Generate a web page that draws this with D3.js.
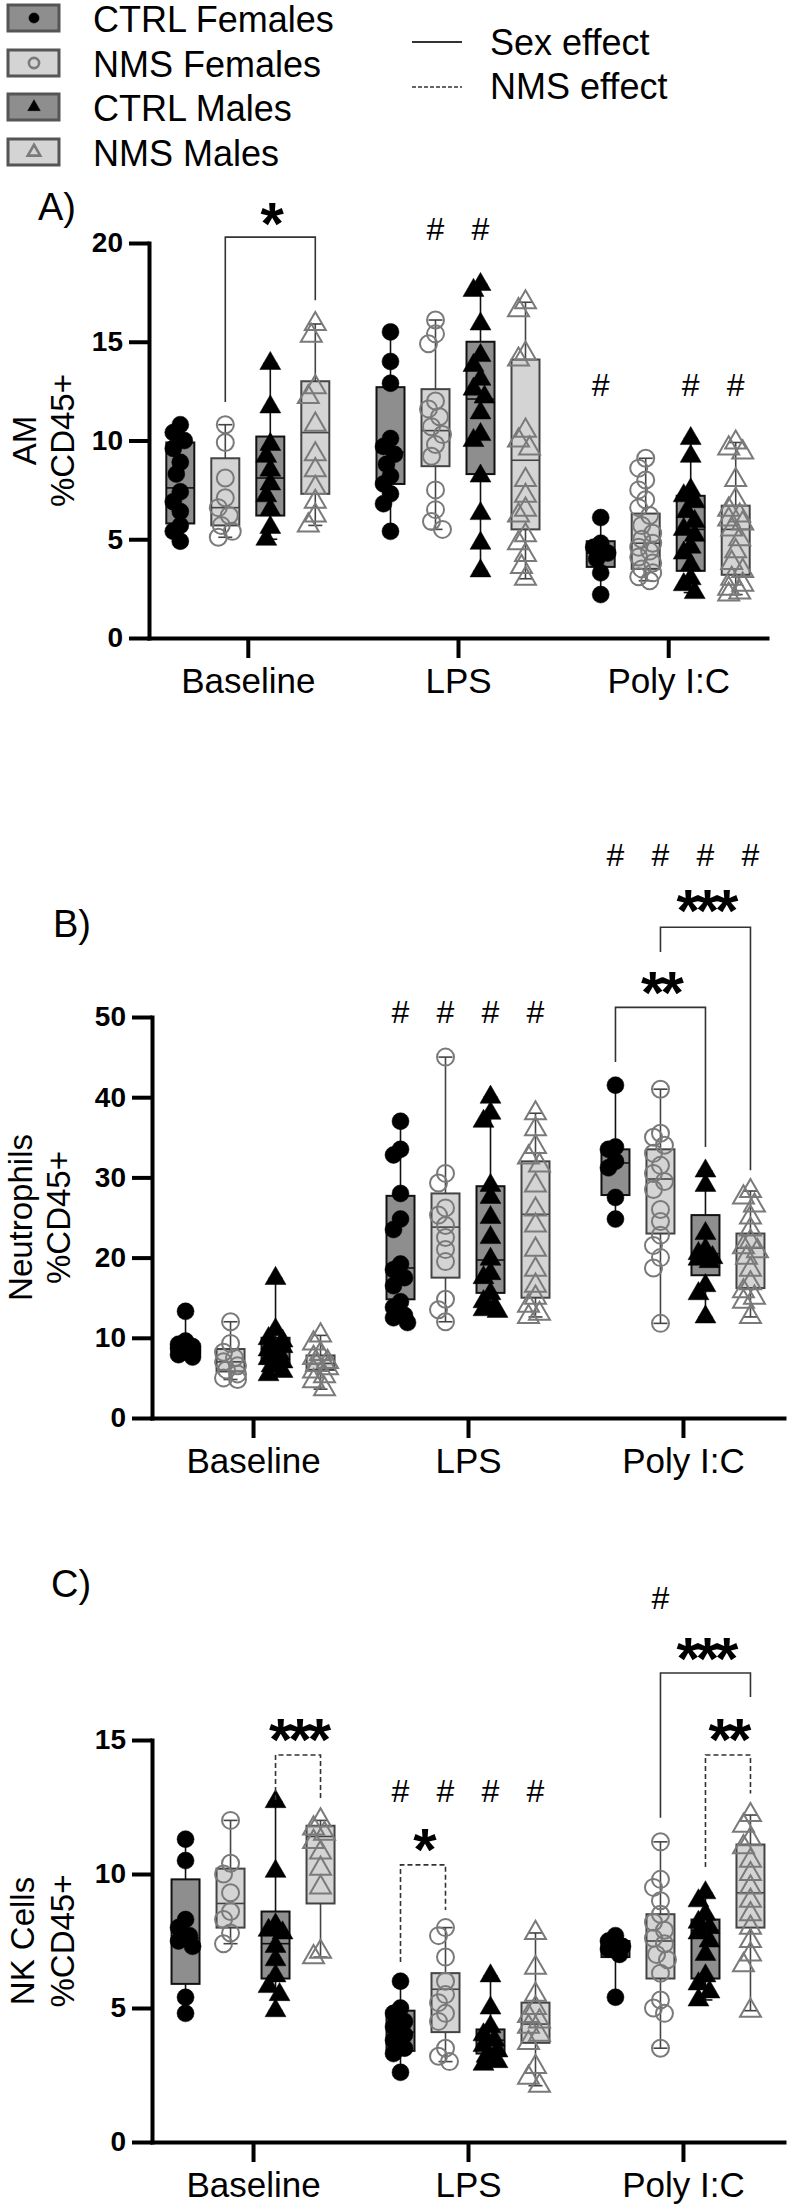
<!DOCTYPE html>
<html>
<head>
<meta charset="utf-8">
<script src="https://cdn.jsdelivr.net/npm/d3@7"></script>
<style>
  body { margin: 0; background: #fff; }
  svg { display: block; font-family: "Liberation Sans", Arimo, Arial, sans-serif; }
</style>
</head>
<body>
<div id="chart"></div>
<script>
const categories = ["Baseline", "LPS", "Poly I:C"];
const groups = ["CTRL Females", "NMS Females", "CTRL Males", "NMS Males"];

// A) AM %CD45+  (points per group, box = [q1, median, q3])
const amBaseline = [
  [10.8, 10.4, 10.0, 9.6, 8.9, 8.3, 7.4, 6.9, 6.4, 5.7, 5.4, 4.9],
  [10.8, 9.9, 8.1, 7.1, 6.6, 6.2, 5.7, 5.4, 5.1],
  [13.9, 11.7, 9.8, 9.2, 8.5, 7.8, 7.2, 6.5, 5.6, 5.0],
  [15.9, 15.3, 12.7, 12.2, 10.8, 9.3, 8.5, 7.6, 6.9, 6.2, 5.7]
];
const amBaselineBox = [[5.8, 7.6, 9.9], [5.7, 6.6, 9.1], [6.2, 8.1, 10.2], [7.3, 10.4, 13.0]];
const amLPS = [
  [15.5, 14.0, 12.9, 10.1, 9.7, 9.3, 8.8, 8.2, 7.8, 7.3, 6.8, 5.4],
  [16.1, 15.4, 14.9, 12.0, 11.6, 11.2, 10.7, 10.3, 9.8, 9.2, 7.5, 6.5, 5.9, 5.5],
  [17.9, 17.6, 15.9, 14.3, 13.8, 13.1, 12.6, 12.2, 11.4, 10.3, 10.0, 8.2, 6.3, 4.8, 3.4],
  [17.0, 16.6, 14.4, 14.1, 10.5, 10.0, 9.6, 8.0, 7.2, 6.5, 6.2, 5.2, 4.8, 4.2, 3.6, 3.0]
];
const amLPSBox = [[7.8, 9.4, 12.7], [8.7, 10.5, 12.6], [8.3, 12.1, 15.0], [5.5, 9.0, 14.1]];
const amPoly = [
  [6.1, 4.8, 4.6, 4.3, 4.0, 3.3, 2.2],
  [9.1, 8.6, 8.0, 7.5, 7.0, 6.6, 6.2, 5.7, 5.3, 5.0, 4.8, 4.6, 4.4, 4.1, 3.8, 3.5, 3.3, 3.1, 2.9],
  [10.1, 9.2, 7.5, 7.2, 6.9, 6.4, 5.9, 5.5, 5.2, 4.6, 4.3, 3.7, 3.0, 2.7, 2.3],
  [9.9, 9.6, 9.4, 8.0, 7.0, 6.5, 6.2, 6.0, 5.8, 5.5, 5.0, 4.4, 3.8, 3.4, 3.0, 2.7, 2.5, 2.3, 2.2]
];
const amPolyBox = [[3.6, 4.3, 4.9], [3.5, 4.8, 6.3], [3.4, 5.5, 7.2], [3.2, 5.5, 6.7]];

// B) Neutrophils %CD45+
const neuBaseline = [
  [13.3, 9.6, 9.2, 8.9, 8.7, 8.5, 8.3, 8.1, 7.9, 7.6],
  [12.0, 9.3, 8.2, 7.5, 7.0, 6.5, 6.0, 5.5, 5.0, 4.8],
  [17.4, 11.0, 9.9, 9.6, 9.3, 8.9, 8.5, 8.0, 7.4, 7.0, 6.5, 5.8, 5.4],
  [10.3, 9.3, 8.0, 7.5, 7.0, 6.6, 6.2, 5.8, 5.2, 4.6, 3.6]
];
const neuBaselineBox = [[7.8, 8.5, 9.2], [5.8, 7.0, 8.6], [6.8, 8.5, 10.0], [6.0, 6.8, 7.8]];
const neuLPS = [
  [37.0, 33.5, 32.8, 28.0, 24.8, 23.5, 19.2, 18.5, 17.5, 16.5, 14.5, 13.8, 12.8, 12.5, 11.9],
  [45.0, 30.5, 29.3, 26.2, 25.3, 24.0, 22.5, 21.0, 19.5, 14.8, 13.5, 12.0],
  [40.0, 38.0, 37.0, 29.0, 27.5, 25.0, 22.5, 19.8, 18.0, 17.5, 15.5, 14.5, 13.8, 13.5, 13.3],
  [38.0, 36.0, 33.8, 32.5, 31.5, 29.0, 26.0, 24.0, 21.0, 18.5, 16.5, 15.0, 14.0, 13.0, 12.6]
];
const neuLPSBox = [[14.8, 18.7, 27.7], [17.5, 23.8, 28.0], [15.6, 19.7, 28.9], [15.0, 25.4, 32.0]];
const neuPoly = [
  [41.5, 33.8, 33.5, 32.0, 31.2, 27.5, 24.8],
  [41.0, 35.5, 35.0, 34.0, 33.0, 31.5, 30.5, 29.5, 28.5, 26.0, 24.5, 22.8, 21.5, 20.0, 18.7, 11.8],
  [30.8, 29.0, 23.0, 21.0, 20.5, 20.0, 19.8, 19.5, 16.5, 15.5, 12.6],
  [28.3, 27.5, 26.5, 25.0, 23.5, 22.0, 21.3, 20.8, 20.0, 18.5, 16.8, 15.8, 15.0, 14.5, 12.6]
];
const neuPolyBox = [[27.8, 31.8, 33.5], [23.0, 29.8, 33.5], [17.8, 20.5, 25.3], [16.2, 21.2, 23.0]];

// C) NK Cells %CD45+
const nkBaseline = [
  [11.3, 10.5, 8.3, 8.0, 7.7, 7.5, 7.3, 5.4, 4.8],
  [12.0, 10.4, 10.0, 9.3, 8.6, 8.3, 7.8, 7.4],
  [12.7, 10.1, 8.1, 7.9, 7.8, 7.3, 6.8, 6.2, 5.8, 5.5, 4.9],
  [12.0, 11.7, 11.5, 11.2, 10.8, 10.2, 9.5, 7.1, 6.9]
];
const nkBaselineBox = [[5.9, 7.6, 9.8], [8.0, 8.9, 10.2], [6.1, 7.4, 8.6], [8.9, 11.4, 11.8]];
const nkLPS = [
  [6.0, 5.0, 4.8, 4.5, 4.3, 4.0, 3.8, 3.5, 3.3, 2.6],
  [8.0, 7.7, 6.9, 6.0, 5.5, 5.2, 4.8, 4.5, 3.5, 3.2, 3.0],
  [6.2, 5.0, 4.3, 4.0, 3.8, 3.6, 3.4, 3.2, 3.0, 2.9],
  [7.8, 6.5, 5.5, 5.0, 4.7, 4.5, 4.3, 4.0, 3.7, 2.8, 2.4, 2.1]
];
const nkLPSBox = [[3.4, 4.1, 4.9], [4.1, 5.7, 6.3], [3.3, 3.8, 4.2], [3.7, 4.4, 5.2]];
const nkPoly = [
  [7.7, 7.5, 7.3, 7.2, 7.0, 5.4],
  [11.2, 9.8, 9.5, 9.0, 8.5, 8.2, 7.9, 7.6, 7.4, 7.0, 6.8, 6.3, 5.3, 5.0, 4.8, 3.5],
  [9.3, 9.0, 8.5, 8.2, 8.0, 7.8, 7.5, 7.0, 6.2, 5.9, 5.6, 5.3],
  [12.2, 11.8, 11.3, 11.0, 10.5, 10.0, 9.5, 9.0, 8.5, 8.0, 7.5, 7.0, 6.6, 4.9]
];
const nkPolyBox = [[6.9, 7.3, 7.5], [6.1, 7.5, 8.5], [6.1, 7.9, 8.3], [8.0, 9.3, 11.1]];

// "#" marks: [category, group index, value]
const amHashes = [["LPS", 1, 20.7], ["LPS", 2, 20.7], ["Poly I:C", 0, 12.8], ["Poly I:C", 2, 12.8], ["Poly I:C", 3, 12.8]];
const neuHashes = [["LPS", 0, 50.6], ["LPS", 1, 50.6], ["LPS", 2, 50.6], ["LPS", 3, 50.6],
  ["Poly I:C", 0, 70.2], ["Poly I:C", 1, 70.2], ["Poly I:C", 2, 70.2], ["Poly I:C", 3, 70.2]];
const nkHashes = [["LPS", 0, 13.1], ["LPS", 1, 13.1], ["LPS", 2, 13.1], ["LPS", 3, 13.1], ["Poly I:C", 1, 20.3]];

// significance brackets (values in data units)
const amBrackets = [
  { cat: "Baseline", g: [1, 3], top: 20.3, ends: [11.95, 17.1], dashed: false, text: "*", textV: 21.6 }
];
const neuBrackets = [
  { cat: "Poly I:C", g: [1, 3], top: 61.2, ends: [58.1, 30.9], dashed: false, text: "***", textV: 64.8 },
  { cat: "Poly I:C", g: [0, 2], top: 51.2, ends: [44.4, 33.8], dashed: false, text: "**", textV: 54.6 }
];
const nkBrackets = [
  { cat: "Baseline", g: [2, 3], top: 14.44, ends: [12.76, 12.76], dashed: true, text: "***", textV: 15.5 },
  { cat: "LPS", g: [0, 1], top: 10.34, ends: [6.72, 8.66], dashed: true, text: "*", textV: 11.38 },
  { cat: "Poly I:C", g: [1, 3], top: 17.5, ends: [12.1, 16.6], dashed: false, text: "***", textV: 18.5 },
  { cat: "Poly I:C", g: [2, 3], top: 14.44, ends: [10.26, 13.0], dashed: true, text: "**", textV: 15.5 }
];

const boxFill = ["#8e8e8e", "#d4d4d4", "#8e8e8e", "#d4d4d4"];
const lineCol = ["#111", "#444", "#111", "#444"];
const R = 8.5; // marker radius

const svg = d3.select("#chart").append("svg")
  .attr("width", 792).attr("height", 2212);

function drawMarker(sel, gi, x, y, k) {
  k = k || 1;
  const filled = gi === 0 || gi === 2;
  if (gi < 2) {
    sel.append("circle").attr("cx", x).attr("cy", y).attr("r", R * k)
      .attr("fill", filled ? "#000" : "none")
      .attr("stroke", filled ? "#000" : "#7a7a7a").attr("stroke-width", filled ? 0.5 : 2 / Math.sqrt(k));
  } else {
    sel.append("path").attr("d", d3.symbol(d3.symbolTriangle, 190 * k * k)())
      .attr("transform", `translate(${x},${y})`)
      .attr("fill", filled ? "#000" : "none")
      .attr("stroke", filled ? "#000" : "#7a7a7a").attr("stroke-width", filled ? 0.5 : 2 / Math.sqrt(k));
  }
}

// ---- legend ----
const legRows = [18, 63, 107, 152];
const leg = svg.append("g");
groups.forEach((g, i) => {
  const cy = legRows[i];
  leg.append("rect").attr("x", 8).attr("y", cy - 13).attr("width", 51).attr("height", 26)
    .attr("fill", boxFill[i]).attr("stroke", "#555").attr("stroke-width", 3);
  drawMarker(leg, i, 34, cy, 0.6);
  leg.append("text").attr("x", 93).attr("y", cy + 14).attr("font-size", 36).text(g);
});
leg.append("line").attr("x1", 412).attr("x2", 462).attr("y1", 42).attr("y2", 42)
  .attr("stroke", "#333").attr("stroke-width", 2);
leg.append("line").attr("x1", 412).attr("x2", 462).attr("y1", 87).attr("y2", 87)
  .attr("stroke", "#333").attr("stroke-width", 1.5).attr("stroke-dasharray", "4,2");
leg.append("text").attr("x", 490).attr("y", 55).attr("font-size", 36).text("Sex effect");
leg.append("text").attr("x", 490).attr("y", 99).attr("font-size", 36).text("NMS effect");

// simple beeswarm offsets so overlapping points spread sideways a little
function swarm(vals, y, r) {
  const placed = [];
  const cand = [0, -4, 4, -7, 7, -2, 2];
  return vals.map(v => {
    const py = y(v);
    let best = 0, bestOv = Infinity;
    for (const dx of cand) {
      let ov = 0;
      for (const p of placed) {
        const d = Math.hypot(p.x - dx, p.y - py);
        if (d < 1.4 * r) ov += 1.4 * r - d;
      }
      if (ov < bestOv - 1e-6) { bestOv = ov; best = dx; }
      if (ov === 0) break;
    }
    placed.push({ x: best, y: py });
    return best;
  });
}

const panels = [
  { label: "A)", lx: 38, ly: 220, title: ["AM", "%CD45+"], tx: [24, 62], ticks: [0, 5, 10, 15, 20],
    yr: [638, 243], xr: [149, 767], pts: [amBaseline, amLPS, amPoly], box: [amBaselineBox, amLPSBox, amPolyBox],
    hashes: amHashes, brackets: amBrackets },
  { label: "B)", lx: 53, ly: 937, title: ["Neutrophils", "%CD45+"], tx: [20, 58], ticks: [0, 10, 20, 30, 40, 50],
    yr: [1418, 1017], xr: [152, 784], pts: [neuBaseline, neuLPS, neuPoly], box: [neuBaselineBox, neuLPSBox, neuPolyBox],
    hashes: neuHashes, brackets: neuBrackets },
  { label: "C)", lx: 51, ly: 1597, title: ["NK Cells", "%CD45+"], tx: [22, 62], ticks: [0, 5, 10, 15],
    yr: [2142, 1740], xr: [152, 784], pts: [nkBaseline, nkLPS, nkPoly], box: [nkBaselineBox, nkLPSBox, nkPolyBox],
    hashes: nkHashes, brackets: nkBrackets }
];

panels.forEach(p => {
  const g = svg.append("g");
  const ymax = p.ticks[p.ticks.length - 1];
  const y = d3.scaleLinear().domain([0, ymax]).range(p.yr);
  const x = d3.scalePoint().domain(categories).range(p.xr).padding(0.47);
  const sub = d3.scaleBand().domain(d3.range(4)).range([-90, 90]);
  const gx = (cat, gi) => x(cat) + sub(gi) + sub.bandwidth() / 2;

  g.append("text").attr("x", p.lx).attr("y", p.ly).attr("font-size", 38).text(p.label);

  const cyMid = (p.yr[0] + p.yr[1]) / 2;
  p.title.forEach((t, i) => {
    g.append("text").attr("transform", `translate(${p.tx[i]},${cyMid}) rotate(-90)`)
      .attr("text-anchor", "middle").attr("dominant-baseline", "central")
      .attr("font-size", 33).text(t);
  });

  // boxes
  categories.forEach((cat, ci) => {
    p.pts[ci].forEach((vals, gi) => {
      const cx = gx(cat, gi);
      const [q1, med, q3] = p.box[ci][gi];
      const [mn, mx] = d3.extent(vals);
      const bw = 28, cw = 14;
      const col = lineCol[gi];
      g.append("line").attr("x1", cx).attr("x2", cx).attr("y1", y(mn)).attr("y2", y(mx))
        .attr("stroke", col).attr("stroke-width", 1.6);
      [mn, mx].forEach(v => g.append("line").attr("x1", cx - cw / 2).attr("x2", cx + cw / 2)
        .attr("y1", y(v)).attr("y2", y(v)).attr("stroke", col).attr("stroke-width", 1.6));
      g.append("rect").attr("x", cx - bw / 2).attr("y", y(q3)).attr("width", bw).attr("height", y(q1) - y(q3))
        .attr("fill", boxFill[gi]).attr("stroke", col).attr("stroke-width", 2);
      g.append("line").attr("x1", cx - bw / 2).attr("x2", cx + bw / 2).attr("y1", y(med)).attr("y2", y(med))
        .attr("stroke", col).attr("stroke-width", 1.6);
      const offs = swarm(vals, y, R);
      vals.forEach((v, k) => drawMarker(g, gi, cx + offs[k], y(v)));
    });
  });

  // axes
  const ya = g.append("g").attr("transform", `translate(${p.xr[0]},0)`)
    .call(d3.axisLeft(y).tickValues(p.ticks).tickSize(20).tickSizeOuter(0).tickPadding(6));
  const xa = g.append("g").attr("transform", `translate(0,${p.yr[0]})`)
    .call(d3.axisBottom(x).tickSize(20).tickSizeOuter(0).tickPadding(10));
  [ya, xa].forEach(a => {
    a.select(".domain").attr("stroke", "#000").attr("stroke-width", 4).attr("stroke-linecap", "square");
    a.selectAll(".tick line").attr("stroke", "#000").attr("stroke-width", 4);
  });
  ya.selectAll(".tick text").attr("font-size", 28).attr("font-weight", "bold")
    .attr("font-family", "'Liberation Sans', Arimo, Arial, sans-serif").attr("fill", "#000");
  xa.selectAll(".tick text").attr("font-size", 35)
    .attr("font-family", "'Liberation Sans', Arimo, Arial, sans-serif").attr("fill", "#000");

  // hash marks
  p.hashes.forEach(([cat, gi, v]) => {
    g.append("text").attr("x", gx(cat, gi)).attr("y", y(v) + 11).attr("text-anchor", "middle")
      .attr("font-size", 32).text("#");
  });

  // brackets
  p.brackets.forEach(b => {
    const x1 = gx(b.cat, b.g[0]), x2 = gx(b.cat, b.g[1]);
    g.append("path")
      .attr("d", `M${x1},${y(b.ends[0])}V${y(b.top)}H${x2}V${y(b.ends[1])}`)
      .attr("fill", "none").attr("stroke", "#333").attr("stroke-width", 1.6)
      .attr("stroke-dasharray", b.dashed ? "5,3" : null);
    g.append("text").attr("x", (x1 + x2) / 2).attr("y", y(b.textV) + 33)
      .attr("text-anchor", "middle").attr("font-size", 60).attr("font-weight", "bold")
      .attr("letter-spacing", -4).text(b.text);
  });
});
</script>
</body>
</html>
